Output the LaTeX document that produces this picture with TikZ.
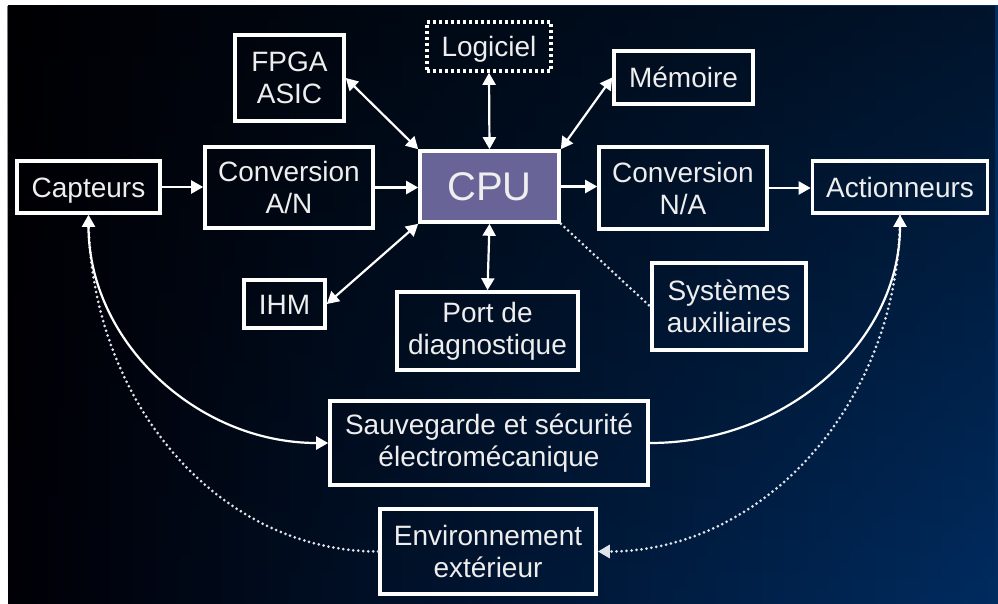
\documentclass[tikz,border=0pt]{standalone}
\usepackage{fontspec}
\setmainfont{Liberation Sans}
\usetikzlibrary{arrows.meta,fadings}

\definecolor{bgL}{HTML}{000006}
\definecolor{bgM}{HTML}{00224E}
\definecolor{bgR}{HTML}{002C60}
\definecolor{cpufill}{RGB}{104,100,152}
\definecolor{txt}{HTML}{EEEEEE}
\definecolor{dotcol}{HTML}{E0E4EA}

\tikzset{
  box/.style={draw=white, line width=3.6pt, text=txt, align=center, inner sep=0pt,
              font=\fontsize{28}{32}\selectfont},
  oneline/.style={text height=20pt, text depth=0pt},
  tip/.tip={Triangle[length=12pt,width=13pt]},
  dbl/.style={white, line width=2.2pt, tip-tip},
  one/.style={white, line width=2.2pt, -tip},
  dotline/.style={dotcol, line width=3pt, line cap=round, dash pattern=on 0pt off 5pt},
}

\begin{document}
\begin{tikzpicture}[x=1pt,y=-1pt]
\useasboundingbox (0,0) rectangle (998,603);
\fill[white] (0,0) rectangle (998,603);

% dark backdrop: blue towards the right, darker towards the top
\shade[left color=bgL, middle color=bgM, right color=bgR] (8,5) rectangle (998,603);
\fill[black, opacity=0.55, path fading=south] (8,5) rectangle (998,603);

% chain of processing
\node[box, oneline, minimum width=143pt, minimum height=52pt] (cap) at (88.5,187) {Capteurs};
\node[box, minimum width=168pt, minimum height=81pt] (an) at (289,187.5) {Conversion\\A/N};
\node[box, fill=cpufill, minimum width=139pt, minimum height=71pt,
      font=\fontsize{40}{44}\selectfont] (cpu) at (489.5,186.5) {CPU};
\node[box, minimum width=168pt, minimum height=82pt] (na) at (683,188) {Conversion\\N/A};
\node[box, oneline, minimum width=175pt, minimum height=52pt] (act) at (900,187) {Actionneurs};

% around the CPU
\node[box, minimum width=109pt, minimum height=86pt] (fpga) at (289.5,78) {FPGA\\ASIC};
\node[box, oneline, dash pattern=on 3pt off 3pt, minimum width=124pt, minimum height=49pt] (log) at (489,46.5) {Logiciel};
\node[box, oneline, minimum width=139pt, minimum height=53pt] (mem) at (683.5,77.5) {Mémoire};
\node[box, oneline, minimum width=81pt, minimum height=48pt] (ihm) at (284.5,304) {IHM};
\node[box, minimum width=181pt, minimum height=78pt] (port) at (487.5,331) {Port de\\diagnostique};
\node[box, minimum width=154pt, minimum height=87pt] (sys) at (729,306.5) {Systèmes\\auxiliaires};

% bottom row
\node[box, minimum width=318pt, minimum height=84pt] (sauv) at (489,443) {Sauvegarde et sécurité\\électromécanique};
\node[box, minimum width=216pt, minimum height=85pt] (env) at (488,551.5) {Environnement\\extérieur};

% main flow
\draw[one] (cap.east) -- (cap.east -| an.west);
\draw[one] (an.east) -- (an.east -| cpu.west);
\draw[one] (cpu.east) -- (cpu.east -| na.west);
\draw[one] (na.east) -- (na.east -| act.west);

% links to the CPU
\draw[dbl] (fpga.east) -- (cpu.north west);
\draw[dbl] (log.south) -- (cpu.north);
\draw[dbl] (mem.west) -- (cpu.north east);
\draw[dbl] (ihm.east) -- (cpu.south west);
\draw[dbl] (port.north) -- (cpu.south);
\draw[dotline] (cpu.south east) -- (sys.west);

% environment loop (dotted)
\draw[dotline] (env.west) .. controls +(-160,0) and +(0,186) .. (cap.south);
\draw[dotline, -tip]
  (act.south) .. controls +(0,186) and +(167,0) .. (env.east);

% safety loop (solid)
\draw[dbl] (cap.south) .. controls +(0,126) and +(-132,0) .. (sauv.west);
\draw[one] (sauv.east) .. controls +(138,0) and +(0,126) .. (act.south);
\end{tikzpicture}
\end{document}
